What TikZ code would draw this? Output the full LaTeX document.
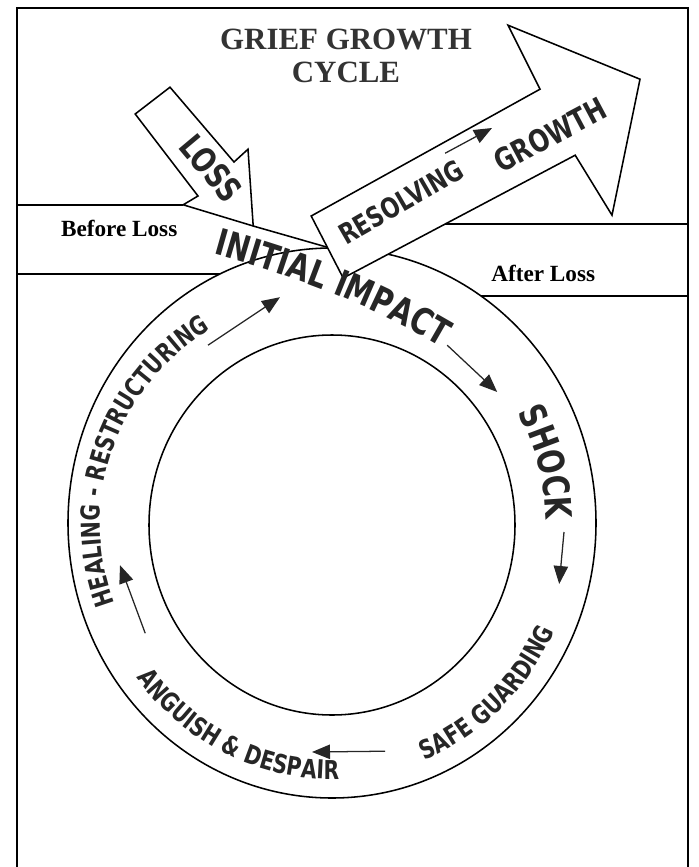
\documentclass[tikz,border=0pt]{standalone}
\usepackage{fontspec}
\setmainfont{Liberation Serif}
\newfontfamily\ringfont[FakeStretch=0.78]{DejaVu Sans}
\usetikzlibrary{arrows.meta,decorations.text}
\newcommand\bigring{\ringfont\bfseries\fontsize{26}{28}\selectfont}
\newcommand\smallring{\ringfont\bfseries\fontsize{18.5}{20}\selectfont}

\begin{document}
\begin{tikzpicture}[
    line width=1.1pt,
    title/.style={font=\fontsize{22}{23.5}\selectfont\bfseries, align=center, text=black!80},
    band/.style={font=\fontsize{16.5}{18}\selectfont\bfseries},
    bigarrow/.style={draw, fill=white, line join=miter},
    arrowtext/.style={font=\ringfont\bfseries\fontsize{#1}{#1}\selectfont, text=black!85, inner sep=0pt},
    flow/.style={-{Triangle[length=4.5mm, width=3.6mm]}, line width=0.9pt, draw=black!85, fill=black!85},
    ringtext/.style={decorate, decoration={text along path, text align=center, text color=black!85, text={#1}}},
]
    \useasboundingbox (0,0) rectangle (17.45,-21.675);

    % frame and the two bands
    \draw (0.43,-21.675) -- (0.43,-0.2) -- (17.2,-0.2) -- (17.2,-21.675);
    \draw (0.43,-5.12) -- (4.58,-5.12);
    \draw (0.43,-6.85) -- (5.5,-6.85);
    \draw (11.1,-5.6) -- (17.2,-5.6);
    \draw (12.03,-7.4) -- (17.2,-7.4);
    \draw (6.33,-5.65) -- (8.25,-6.2);

    % the cycle
    \coordinate (ringc) at (8.3,-13.1);
    \draw (8.3,-13.075) ellipse [x radius=6.6, y radius=6.875];
    \draw (8.3,-13.125) ellipse [x radius=4.575, y radius=4.75];

    % big arrows
    \draw[bigarrow] (7.78,-5.4) -- (8.58,-6.95) -- (14.38,-3.88) -- (15.3,-5.38) -- (16.0,-1.98) -- (12.7,-0.63) -- (13.5,-2.23) -- cycle;
    \draw[bigarrow] (3.38,-2.85) -- (4.25,-2.18) -- (5.85,-4.05) -- (6.2,-3.73) -- (6.33,-5.65) -- (4.58,-5.12) -- (4.95,-4.9) -- cycle;

    % labels
    \node[title] (title) at (8.65,-1.4) {GRIEF GROWTH\\CYCLE};
    \node[band] (before) at (2.98,-5.7) {Before Loss};
    \node[band] (after) at (13.58,-6.83) {After Loss};
    \node[arrowtext=24, rotate=-50] (loss) at (5.28,-4.2) {LOSS};
    \node[arrowtext=20, rotate=30] (resolving) at (10.03,-5.05) {RESOLVING};
    \node[arrowtext=22, rotate=28] (growth) at (13.75,-3.38) {GROWTH};

    % stages round the ring
    \path[ringtext={|\bigring|INITIAL IMPACT}] (4.81,-6.2) .. controls (7.25,-6.85) and (9.35,-7.6) .. (11.5,-8.95);
    \path[ringtext={|\bigring|SHOCK}] ([shift={(40:5.35 and 5.6)}]ringc) arc[start angle=40, end angle=-9, x radius=5.35, y radius=5.6];
    \path[ringtext={|\smallring|SAFE GUARDING}] ([shift={(-78:6.125 and 6.375)}]ringc) arc[start angle=-78, end angle=-15, x radius=6.125, y radius=6.375];
    \path[ringtext={|\smallring|ANGUISH {\&} DESPAIR}] ([shift={(-153:6.125 and 6.375)}]ringc) arc[start angle=-153, end angle=-78, x radius=6.125, y radius=6.375];
    \path[ringtext={|\smallring|HEALING - RESTRUCTURING}] ([shift={(215:5.8 and 5.7)}]ringc) arc[start angle=215, end angle=107, x radius=5.8, y radius=5.7];

    % flow arrows
    \coordinate (imA) at (5.2,-8.63);   \coordinate (imB) at (7.0,-7.43);
    \coordinate (shA) at (11.18,-8.63); \coordinate (shB) at (12.43,-9.8);
    \coordinate (sgA) at (14.1,-13.3);  \coordinate (sgB) at (13.98,-14.6);
    \coordinate (adA) at (9.63,-18.78); \coordinate (adB) at (7.8,-18.8);
    \coordinate (hrA) at (3.63,-15.83); \coordinate (hrB) at (3.0,-14.13);
    \coordinate (grA) at (11.13,-3.83); \coordinate (grB) at (12.3,-3.2);
    \draw[flow] (imA) -- (imB);
    \draw[flow] (shA) -- (shB);
    \draw[flow] (sgA) -- (sgB);
    \draw[flow] (adA) -- (adB);
    \draw[flow] (hrA) -- (hrB);
    \draw[flow] (grA) -- (grB);
\end{tikzpicture}
\end{document}
